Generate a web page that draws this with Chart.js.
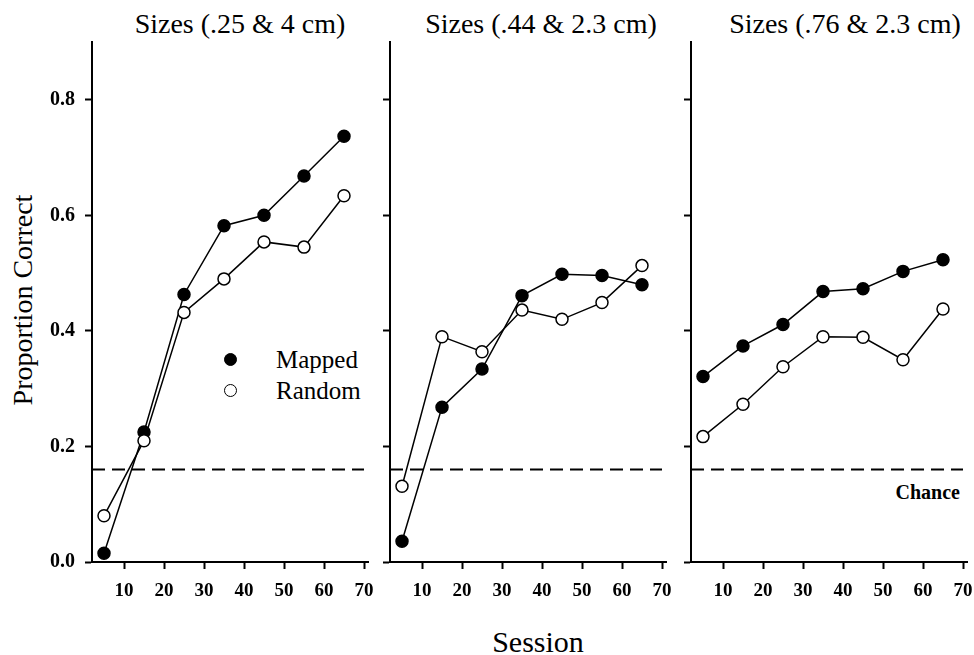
<!DOCTYPE html>
<html>
<head>
<meta charset="utf-8">
<script src="https://cdn.jsdelivr.net/npm/chart.js@4.4.0/dist/chart.umd.min.js"></script>
<style>
  html, body { margin: 0; padding: 0; background: #fff; overflow: hidden; }
  #wrap { position: relative; width: 974px; height: 655px; font-family: "Liberation Serif", "Times New Roman", serif; color: #000; }
  canvas { position: absolute; top: 0; }
  .lbl { position: absolute; line-height: 1; white-space: nowrap; }
  .title { font-size: 28px; top: 10px; width: 300px; text-align: center; }
  .dot { position: absolute; width: 11px; height: 11px; border: 1.5px solid #000; border-radius: 50%; }
</style>
</head>
<body>
<div id="wrap">
  <div class="lbl" style="left:23px;top:300px;font-size:28px;transform:translate(-50%,-50%) rotate(-90deg);">Proportion Correct</div>
  <div class="lbl" style="left:538px;top:627px;font-size:30px;transform:translateX(-50%);">Session</div>
  <div class="lbl" style="right:14px;top:482px;font-size:20px;font-weight:bold;">Chance</div>
  <div class="dot" style="left:224px;top:353px;background:#000;"></div>
  <div class="lbl" style="left:276px;top:347px;font-size:25px;">Mapped</div>
  <div class="dot" style="left:224px;top:384px;background:#fff;"></div>
  <div class="lbl" style="left:276px;top:378px;font-size:25px;">Random</div>
</div>
<script>
const sessions = [5, 15, 25, 35, 45, 55, 65];
const xTicks = [10, 20, 30, 40, 50, 60, 70];
const yTicks = [0, 0.2, 0.4, 0.6, 0.8];
const chance = 0.16;
const chanceX = [2, 70];
const panelTitles = ['Sizes (.25 & 4 cm)', 'Sizes (.44 & 2.3 cm)', 'Sizes (.76 & 2.3 cm)'];

const mapped1 = [0.015, 0.225, 0.463, 0.582, 0.600, 0.668, 0.737];
const random1 = [0.080, 0.210, 0.432, 0.490, 0.554, 0.545, 0.634];
const mapped2 = [0.036, 0.268, 0.334, 0.461, 0.498, 0.496, 0.480];
const random2 = [0.131, 0.390, 0.364, 0.436, 0.420, 0.449, 0.513];
const mapped3 = [0.321, 0.374, 0.411, 0.468, 0.473, 0.503, 0.523];
const random3 = [0.217, 0.273, 0.338, 0.390, 0.389, 0.350, 0.438];

const H = 655;
const plotTop = 42;
const plotBottom = 562;
const FONT = 'Liberation Serif';
Chart.defaults.font.family = FONT;

const panels = [
  { left: 0,   width: 390, plotLeft: 92,  plotRight: 368, mapped: mapped1, random: random1, yLabels: true,  titleX: 240 },
  { left: 300, width: 390, plotLeft: 390, plotRight: 666, mapped: mapped2, random: random2, yLabels: false, titleX: 541 },
  { left: 600, width: 390, plotLeft: 691, plotRight: 967, mapped: mapped3, random: random3, yLabels: false, titleX: 845 }
];

const wrap = document.getElementById('wrap');

function toPoints(xs, ys) {
  return xs.map((x, i) => ({ x, y: ys[i] }));
}

panels.forEach((p, idx) => {
  const t = document.createElement('div');
  t.className = 'lbl title';
  t.style.left = (p.titleX - 150) + 'px';
  t.textContent = panelTitles[idx];
  wrap.appendChild(t);

  const canvas = document.createElement('canvas');
  canvas.width = p.width;
  canvas.height = H;
  canvas.style.left = p.left + 'px';
  wrap.appendChild(canvas);

  new Chart(canvas, {
    type: 'line',
    data: {
      datasets: [
        {
          label: 'Random',
          data: toPoints(sessions, p.random),
          borderColor: '#000',
          borderWidth: 1.5,
          pointBackgroundColor: '#fff',
          pointBorderColor: '#000',
          pointBorderWidth: 1.5,
          pointRadius: 6,
          order: 0
        },
        {
          label: 'Mapped',
          data: toPoints(sessions, p.mapped),
          borderColor: '#000',
          borderWidth: 1.5,
          pointBackgroundColor: '#000',
          pointBorderColor: '#000',
          pointBorderWidth: 1.5,
          pointRadius: 6,
          order: 1
        },
        {
          label: 'Chance',
          data: chanceX.map(x => ({ x, y: chance })),
          borderColor: '#000',
          borderWidth: 2,
          borderDash: [13, 7],
          pointRadius: 0,
          order: 2
        }
      ]
    },
    options: {
      responsive: false,
      animation: false,
      devicePixelRatio: 1,
      clip: false,
      layout: { padding: { top: plotTop, right: p.left + p.width - p.plotRight, left: 0, bottom: 0 } },
      plugins: { legend: { display: false }, tooltip: { enabled: false } },
      scales: {
        x: {
          type: 'linear',
          min: 2,
          max: 71,
          afterBuildTicks: s => { s.ticks = xTicks.map(v => ({ value: v })); },
          afterFit: s => { s.height = H - plotBottom; s.paddingLeft = 0; s.paddingRight = 0; },
          grid: { drawOnChartArea: false, drawTicks: true, tickLength: 7, tickWidth: 2, tickColor: '#000' },
          border: { color: '#000', width: 2 },
          ticks: { color: '#000', font: { family: FONT, size: 19, weight: 'bold' }, padding: 11, maxRotation: 0, autoSkip: false }
        },
        y: {
          type: 'linear',
          min: 0,
          max: 0.9,
          afterBuildTicks: s => { s.ticks = yTicks.map(v => ({ value: v })); },
          afterFit: s => { s.width = p.plotLeft - p.left; s.paddingTop = 0; s.paddingBottom = 0; },
          grid: { drawOnChartArea: false, drawTicks: true, tickLength: 7, tickWidth: 2, tickColor: '#000' },
          border: { color: '#000', width: 2 },
          ticks: {
            display: p.yLabels,
            color: '#000',
            font: { family: FONT, size: 20, weight: 'bold' },
            padding: 10,
            callback: v => v.toFixed(1)
          }
        }
      }
    }
  });
});
</script>
</body>
</html>
